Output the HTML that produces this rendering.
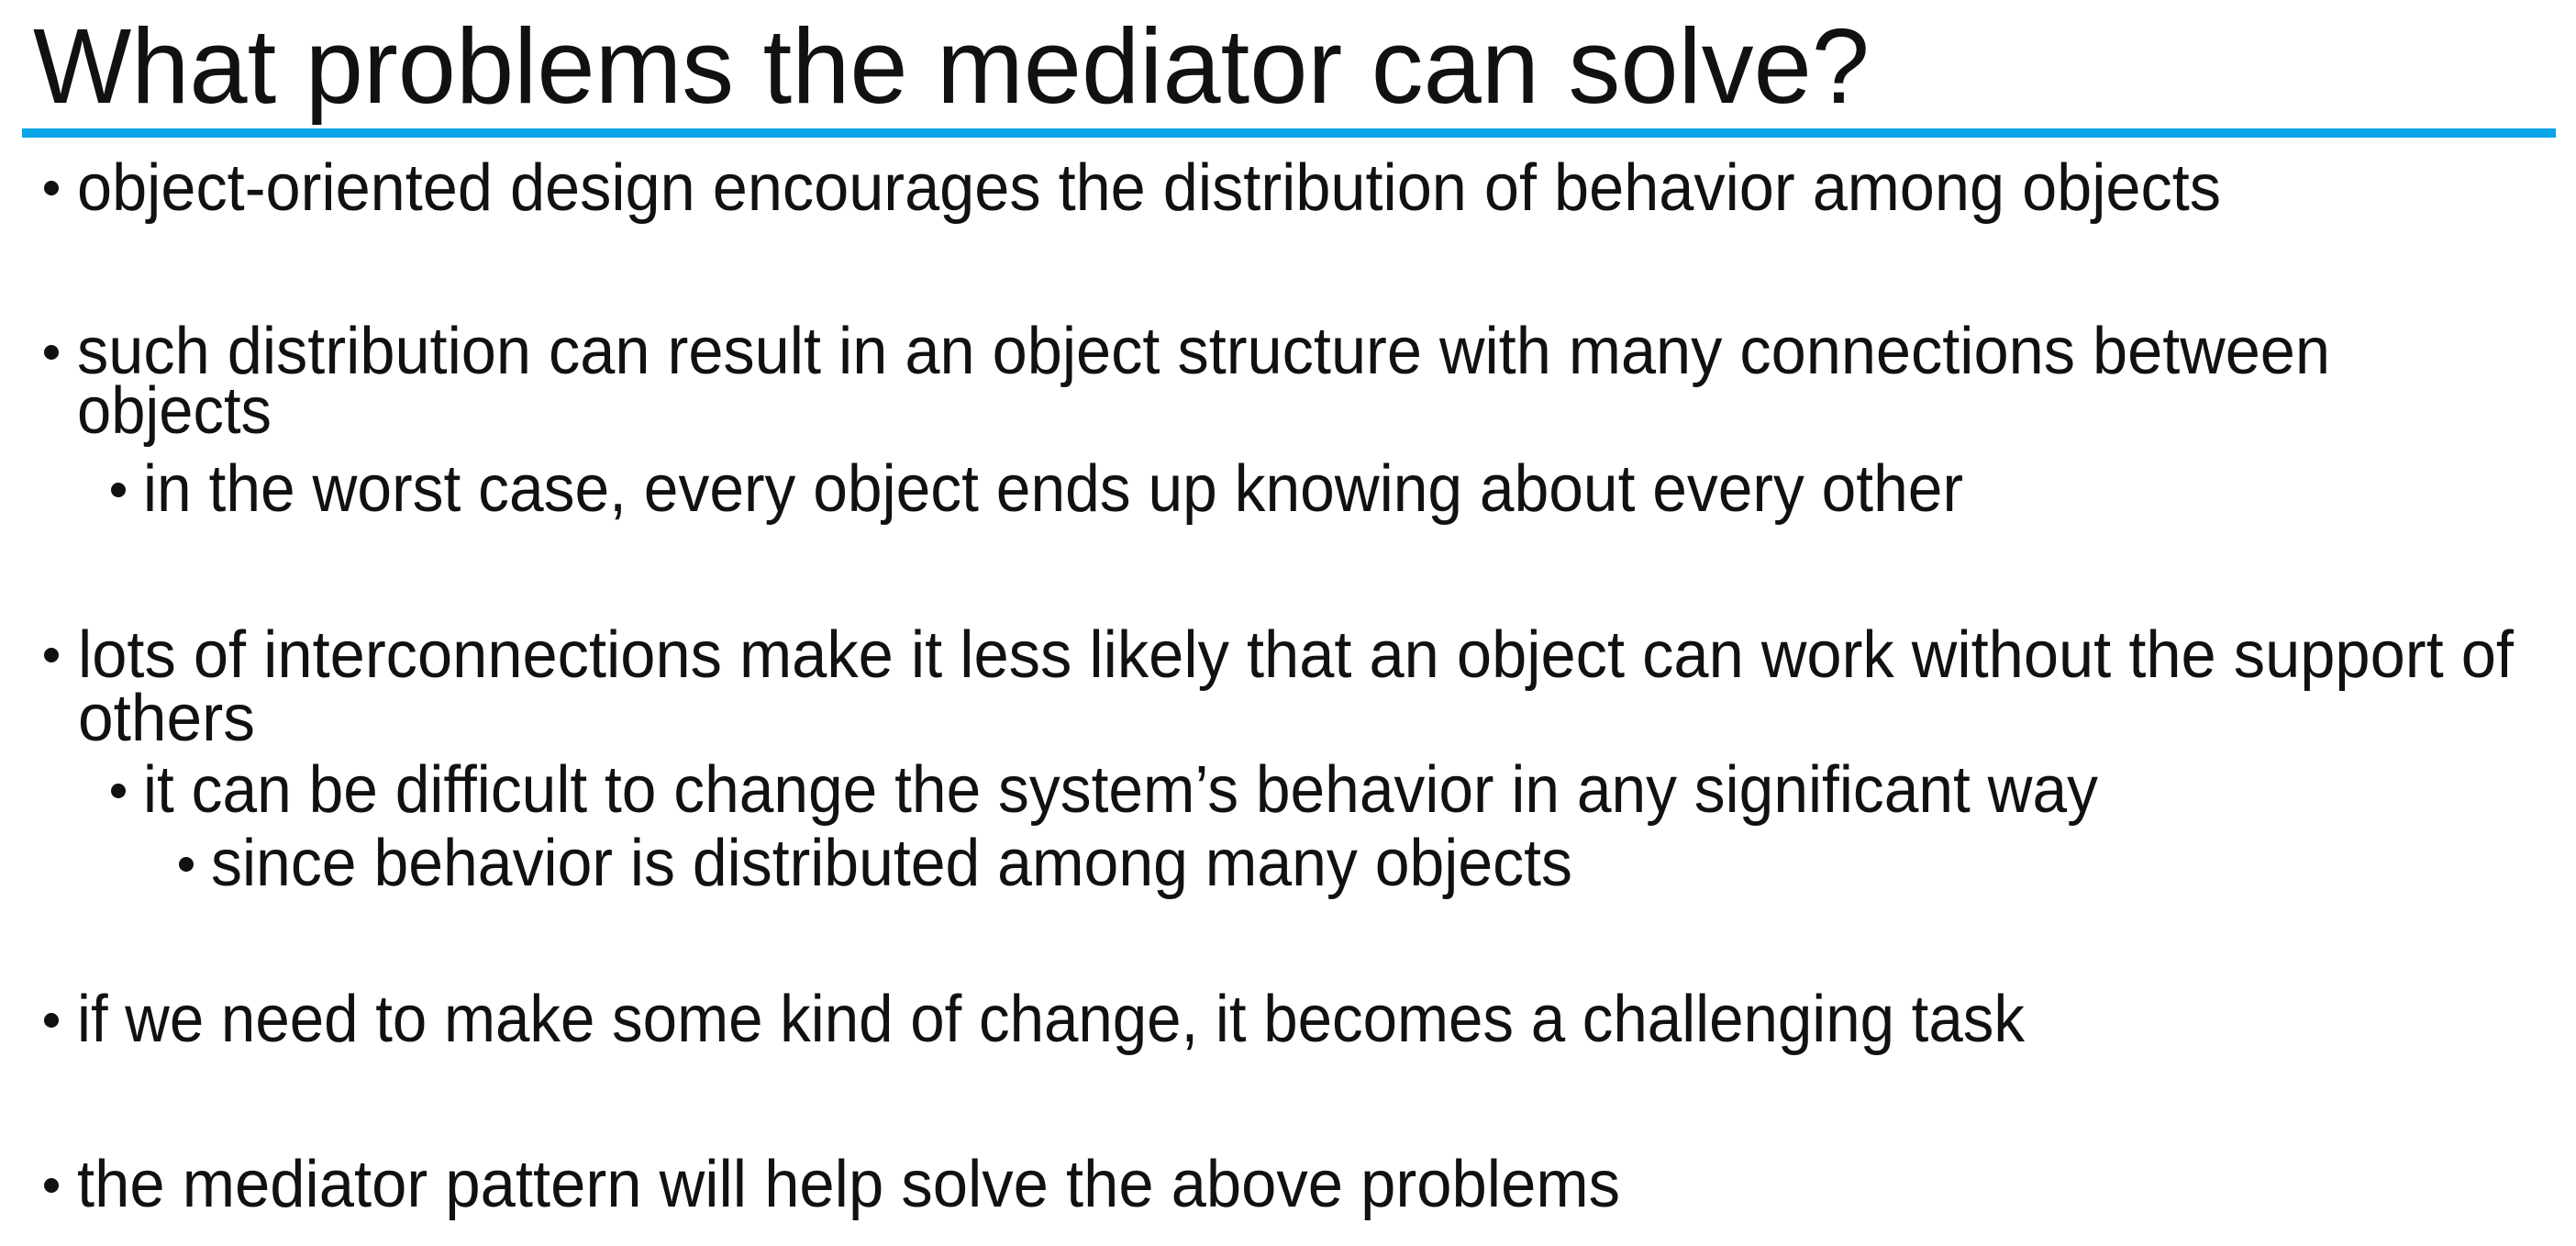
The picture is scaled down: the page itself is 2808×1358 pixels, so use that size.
<!DOCTYPE html>
<html><head><meta charset="utf-8"><style>
html,body{margin:0;padding:0;background:#fff;}
svg{display:block;}
text{font-family:"Liberation Sans",sans-serif;fill:#111;}
</style></head><body>
<svg width="2808" height="1358" viewBox="0 0 2808 1358">
<text x="36" y="112" font-size="116" textLength="2002" lengthAdjust="spacingAndGlyphs">What problems the mediator can solve?</text>
<rect x="24" y="140" width="2762" height="10" fill="#0aa5e6"/>
<g font-size="72">
<circle cx="56" cy="205" r="8" fill="#111"/>
<text x="84" y="229" textLength="2337" lengthAdjust="spacingAndGlyphs">object-oriented design encourages the distribution of behavior among objects</text>
<circle cx="56" cy="384" r="8" fill="#111"/>
<text x="84" y="407" textLength="2456" lengthAdjust="spacingAndGlyphs">such distribution can result in an object structure with many connections between</text>
<text x="84" y="472" textLength="212" lengthAdjust="spacingAndGlyphs">objects</text>
<circle cx="129" cy="534" r="8" fill="#111"/>
<text x="156" y="557" textLength="1984" lengthAdjust="spacingAndGlyphs">in the worst case, every object ends up knowing about every other</text>
<circle cx="56" cy="714" r="8" fill="#111"/>
<text x="85" y="738" textLength="2655" lengthAdjust="spacingAndGlyphs">lots of interconnections make it less likely that an object can work without the support of</text>
<text x="85" y="807" textLength="193" lengthAdjust="spacingAndGlyphs">others</text>
<circle cx="129" cy="862" r="8" fill="#111"/>
<text x="156" y="885" textLength="2131" lengthAdjust="spacingAndGlyphs">it can be difficult to change the system’s behavior in any significant way</text>
<circle cx="203" cy="942" r="8" fill="#111"/>
<text x="230" y="965" textLength="1484" lengthAdjust="spacingAndGlyphs">since behavior is distributed among many objects</text>
<circle cx="56" cy="1112" r="8" fill="#111"/>
<text x="84" y="1135" textLength="2123" lengthAdjust="spacingAndGlyphs">if we need to make some kind of change, it becomes a challenging task</text>
<circle cx="56" cy="1292" r="8" fill="#111"/>
<text x="84" y="1315" textLength="1682" lengthAdjust="spacingAndGlyphs">the mediator pattern will help solve the above problems</text>
</g>
</svg>
</body></html>
